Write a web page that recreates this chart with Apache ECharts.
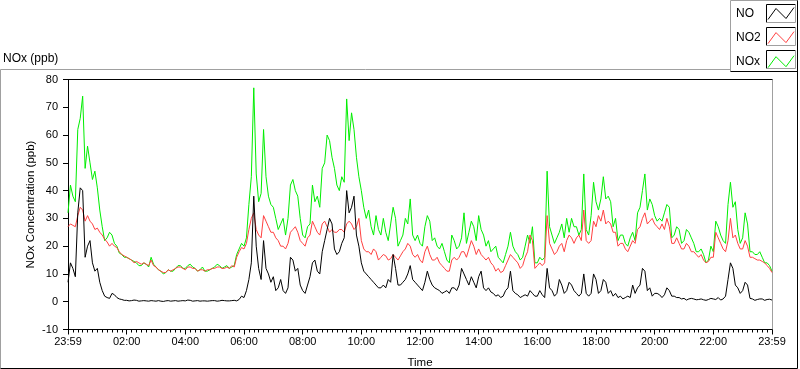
<!DOCTYPE html>
<html>
<head>
<meta charset="utf-8">
<script src="https://cdn.jsdelivr.net/npm/echarts@6/dist/echarts.min.js"></script>
<style>
html,body{margin:0;padding:0;background:#fff;}
#chart{width:800px;height:369px;}
</style>
</head>
<body>
<div id="chart"></div>
<script>
// Time axis: minutes elapsed since 23:59 (5-minute readings)
const minutes = Array.from({length: 289}, (_, i) => i * 5);
const tickLabels = ['23:59','02:00','04:00','06:00','08:00','10:00','12:00','14:00','16:00','18:00','20:00','22:00','23:59'];

const seriesNames = ['NO', 'NO2', 'NOx'];

const noValues = [
  7,14, 12,9, 32,41, 40,16, 20,22, 14,11, 12,7, 4,2, 1.5,1.2, 3,2.5,
  1.5,1, 0.8,0.5, 0.5,0.3, 0.4,0.6, 0.5,0.2, 0.3,0.4, 0.3,0.2, 0.4,0.3, 0.2,0.4, 0.2,0.1,
  0.3,0.4, 0.2,0.3, 0.4,0.2, 0.3,0.4, 0.3,0.6, 0.5,0.2, 0.3,0.4, 0.2,0.3, 0.3,0.2, 0.3,0.4,
  0.4,0.2, 0.3,0.5, 0.4,0.3, 0.3,0.4, 0.5,0.3, 0.8,2, 1.5,4, 8,14, 38,20, 12,8,
  22,12, 10,7, 9,4, 5,8, 4,3, 5,16, 15,11, 12,6, 4,3, 6,9,
  14,15, 11,10, 18,22, 26,30, 28,19, 17,18, 21,23, 40,32, 34,38, 24,20,
  14,11, 10,9, 8,7, 6,5, 5,6, 5,8, 7,17, 12,6, 6,7, 8,10,
  13,8, 7,6, 5,4, 7,11, 8,6, 5,4.5, 4,3, 3.5,4, 3,5, 5,4,
  6,12, 10,8, 6,9, 7,5, 9,11, 5,4, 5,3.5, 3,2, 2.5,1.5, 2,4,
  5,11, 4,3, 2.5,1.5, 2,2.5, 2,4, 3,2, 2,4, 2.5,1.5, 12,5, 4,2,
  3,8, 6,3, 4,7, 6,4, 3,2, 3,10, 3,2, 3,10, 8,3, 4,8,
  7,3, 4,2, 3,1.5, 2,1, 1.5,2, 1.5,6, 3,5, 6,12, 11,4, 5,2,
  3,3, 2.5,1.5, 2.5,5, 4,2, 2,1.5, 1.5,1, 1.2,0.6, 1,1.2, 1,0.7, 0.8,1,
  0.7,0.5, 0.8,1.2, 1,0.8, 1.5,0.6, 1,2, 8,14, 12,6, 5,3, 4,7, 6,1.2,
  1,0.5, 0.8,1, 1,0.5, 0.8,0.9, 0.6];

const no2Values = [
  27,28, 27.5,27, 31,34, 33,29, 31,29, 28,26, 26.5,25, 24,22.5, 21.5,20, 21,20,
  19.5,18, 17,16.5, 16,15.5, 15,14, 14.5,14, 13.5,14, 13.5,13, 15,13, 12.5,11.5, 11,10.5,
  10.5,11.5, 11,11.5, 12,12.5, 12.5,12, 11.5,12.5, 12.5,12, 12,11, 11.5,11.5, 11,11.5, 11.5,12,
  12,12.5, 12.5,12, 12,12.5, 12,13, 12.5,16, 18,19.5, 19,21, 26,30, 32,26, 24,23,
  31,29, 27,25, 25,23, 22,20, 20,19, 21,25, 26,27, 25,22, 21,20, 23,24,
  29,27, 25,24, 28,29, 27,25, 26,25, 25,26, 26,25, 28,29, 28,26, 27,30,
  22,19, 18,18, 17,19, 18,15, 16,17, 16.5,15, 15.5,17, 16,15, 16.5,18, 19,21,
  20,17, 16,17, 15,14, 18,20, 17,15, 15,16, 14,13, 12,11, 11,15, 16,15,
  16,18, 18,16, 19,22, 20,17, 19,17, 16,15, 16,14, 13,11, 12,10.5, 11,13,
  15,17, 16,15, 14,12, 13,16, 18,24, 22,12, 13,14, 13,14, 31,21, 19,17,
  18,20, 21,18, 22,24, 23,21, 23,24, 22,33, 22,21, 22,29, 27,31, 29,33,
  28,29, 28,25, 25,20, 21,21, 19,18, 20,22, 21,26, 27,30, 32,28, 29,30,
  28,27, 26,28, 26,30, 27,21, 21,23, 21,19, 19,21, 20,18, 18,17, 16,17,
  15,14, 14.5,16, 16,25, 23,21, 19,18, 22,30, 23,24, 21,19, 19,22, 20,16,
  16,15.5, 15,15, 14.5,14, 13,12, 10.5];

const noxValues = [
  32,42, 38,36, 62,66, 74,48, 56,50, 44,47, 41,33, 27,22, 23,25, 24,21,
  20,17.5, 17,16, 16,15.5, 15,14.5, 14,13, 13,14, 13.5,12.5, 16,13.5, 12.5,11.5, 11,10,
  10.5,11.5, 11,11, 12,13, 13,12, 12,13, 13.5,12.5, 12,11, 11.5,12.5, 11,11, 11.5,12,
  12.5,13.5, 13,12, 12.5,13, 12,12.5, 13,17, 19,21, 20,23, 35,45, 77,46, 36,39,
  62,45, 38,35, 34,30, 26,28, 30,24, 30,42, 44,40, 38,30, 24,23, 27,28,
  42,36, 38,34, 48,50, 60,58, 52,48, 42,40, 45,43, 73,58, 68,62, 52,45,
  40,34, 30,33, 27,24, 31,26, 24,30, 25,22, 28,34, 30,20, 22,24, 30,28,
  37,24, 22,24, 21,20, 27,31, 29,22, 23,20, 19,21, 18,15, 14,24, 22,19,
  20,23, 32,21, 25,29, 27,22, 31,26, 24,20, 22,18, 19,20, 16,15, 14,17,
  20,25, 20,18, 17,15, 16,20, 24,21, 27,14, 14,16, 15,16, 47,27, 24,21,
  23,25, 28,23, 30,25, 30,27, 27,24, 26,46, 26,24, 31,43, 36,33, 37,45,
  37,38, 36,27, 30,22, 24,24, 21,20, 23,25, 22,32, 34,40, 46,33, 37,35,
  31,29, 30,29, 32,35, 34,23, 24,27, 26,21, 22,26, 25,23, 21,18, 18,19,
  17,14, 15,20, 18,29, 27,24, 22,21, 35,43, 34,36, 26,21, 23,32, 28,18,
  18,17, 17,18, 16,14, 14,13, 11];

const pair = vals => minutes.map((m, i) => [m, vals[i]]);

const chart = echarts.init(document.getElementById('chart'), null, {renderer: 'canvas'});
const FONT = 'Liberation Sans';
const zig = 'path://M0,12L8,1L18,11L26,0';

const option = {
  animation: false,
  backgroundColor: '#ffffff',
  textStyle: {fontFamily: FONT, color: '#000'},
  title: {
    text: 'NOx (ppb)', left: 3, top: 53, padding: 0,
    textStyle: {fontSize: 12, fontWeight: 'normal', color: '#000', fontFamily: FONT}
  },
  legend: {
    orient: 'vertical', left: 736, top: 7, padding: 0,
    itemWidth: 26, itemHeight: 12, itemGap: 11.1,
    align: 'right', selectedMode: false,
    data: [
      {name: seriesNames[0], icon: zig, itemStyle: {color: 'rgba(0,0,0,0)', borderColor: '#000000', borderWidth: 1}},
      {name: seriesNames[1], icon: zig, itemStyle: {color: 'rgba(0,0,0,0)', borderColor: '#ff4040', borderWidth: 1}},
      {name: seriesNames[2], icon: zig, itemStyle: {color: 'rgba(0,0,0,0)', borderColor: '#00ee00', borderWidth: 1}}
    ],
    formatter: n => '{a|' + n + '}',
    textStyle: {
      fontSize: 12, color: '#000', fontFamily: FONT, lineHeight: 12,
      rich: {a: {width: 27, align: 'left', fontSize: 12, lineHeight: 12, fontFamily: FONT, color: '#000'}}
    }
  },
  grid: {left: 68, top: 79.5, width: 704, height: 250, outerBoundsMode: 'none', containLabel: false},
  xAxis: [{
    type: 'value', min: 0, max: 1440, interval: 120, position: 'bottom',
    axisLine: {show: true, onZero: false, lineStyle: {color: '#000', width: 1}},
    axisTick: {show: true, length: 5, lineStyle: {color: '#000'}},
    minorTick: {show: true, splitNumber: 12, length: 3, lineStyle: {color: '#000'}},
    splitLine: {show: false}, minorSplitLine: {show: false},
    axisLabel: {
      color: '#000', fontSize: 11, margin: 7, fontFamily: FONT,
      showMinLabel: true, showMaxLabel: true,
      formatter: v => tickLabels[Math.round(v / 120)]
    },
    name: 'Time', nameLocation: 'middle', nameGap: 27, nameMoveOverlap: false,
    nameTextStyle: {fontSize: 11.5, color: '#000', fontFamily: FONT}
  }, {
    type: 'value', min: 0, max: 1440, position: 'top',
    axisLine: {show: true, onZero: false, lineStyle: {color: '#000', width: 1}},
    axisTick: {show: false}, axisLabel: {show: false}, splitLine: {show: false}
  }],
  yAxis: [{
    type: 'value', min: -10, max: 80, interval: 10, position: 'left',
    axisLine: {show: true, onZero: false, lineStyle: {color: '#000', width: 1}},
    axisTick: {show: true, length: 5, lineStyle: {color: '#000'}},
    splitLine: {show: false},
    axisLabel: {color: '#000', fontSize: 11, margin: 10, fontFamily: FONT},
    name: 'NOx Concentration (ppb)', nameLocation: 'middle', nameGap: 31, nameMoveOverlap: false,
    nameTextStyle: {fontSize: 11.5, color: '#000', fontFamily: FONT}
  }, {
    type: 'value', min: -10, max: 80, position: 'right',
    axisLine: {show: true, onZero: false, lineStyle: {color: '#a0a0a0', width: 1}},
    axisTick: {show: false}, axisLabel: {show: false}, splitLine: {show: false}
  }],
  series: [
    {name: seriesNames[2], type: 'line', data: pair(noxValues), showSymbol: false, symbol: 'none',
     lineStyle: {color: '#00ee00', width: 1}, itemStyle: {color: '#00ee00'}, z: 2},
    {name: seriesNames[1], type: 'line', data: pair(no2Values), showSymbol: false, symbol: 'none',
     lineStyle: {color: '#ff4040', width: 1}, itemStyle: {color: '#ff4040'}, z: 3},
    {name: seriesNames[0], type: 'line', data: pair(noValues), showSymbol: false, symbol: 'none',
     lineStyle: {color: '#000000', width: 1}, itemStyle: {color: '#000000'}, z: 4}
  ],
  graphic: [
    {type: 'line', shape: {x1: 0.5, y1: 69.5, x2: 730.5, y2: 69.5}, style: {stroke: '#a0a0a0', lineWidth: 1}, silent: true},
    {type: 'line', shape: {x1: 0.5, y1: 69.5, x2: 0.5, y2: 368.5}, style: {stroke: '#a0a0a0', lineWidth: 1}, silent: true},
    {type: 'line', shape: {x1: 0.5, y1: 368.5, x2: 797.5, y2: 368.5}, style: {stroke: '#000', lineWidth: 1}, silent: true},
    {type: 'line', shape: {x1: 797.5, y1: 0, x2: 797.5, y2: 368.5}, style: {stroke: '#000', lineWidth: 1}, silent: true},
    {type: 'line', shape: {x1: 730.5, y1: 0.5, x2: 797.5, y2: 0.5}, style: {stroke: '#a0a0a0', lineWidth: 1}, silent: true},
    {type: 'line', shape: {x1: 730.5, y1: 0.5, x2: 730.5, y2: 71.5}, style: {stroke: '#a0a0a0', lineWidth: 1}, silent: true},
    {type: 'line', shape: {x1: 730.5, y1: 71.5, x2: 797.5, y2: 71.5}, style: {stroke: '#000', lineWidth: 1}, silent: true},
    {type: 'polyline', shape: {points: [[766.5, 22.5], [766.5, 4.5], [795.5, 4.5]]}, style: {stroke: '#000', fill: null, lineWidth: 1}, silent: true},
    {type: 'polyline', shape: {points: [[795.5, 4.5], [795.5, 22.5], [766.5, 22.5]]}, style: {stroke: '#a0a0a0', fill: null, lineWidth: 1}, silent: true},
    {type: 'polyline', shape: {points: [[766.5, 45.5], [766.5, 27.5], [795.5, 27.5]]}, style: {stroke: '#000', fill: null, lineWidth: 1}, silent: true},
    {type: 'polyline', shape: {points: [[795.5, 27.5], [795.5, 45.5], [766.5, 45.5]]}, style: {stroke: '#a0a0a0', fill: null, lineWidth: 1}, silent: true},
    {type: 'polyline', shape: {points: [[766.5, 68.5], [766.5, 50.5], [795.5, 50.5]]}, style: {stroke: '#000', fill: null, lineWidth: 1}, silent: true},
    {type: 'polyline', shape: {points: [[795.5, 50.5], [795.5, 68.5], [766.5, 68.5]]}, style: {stroke: '#a0a0a0', fill: null, lineWidth: 1}, silent: true}
  ]
};
chart.setOption(option);
</script>
</body>
</html>
